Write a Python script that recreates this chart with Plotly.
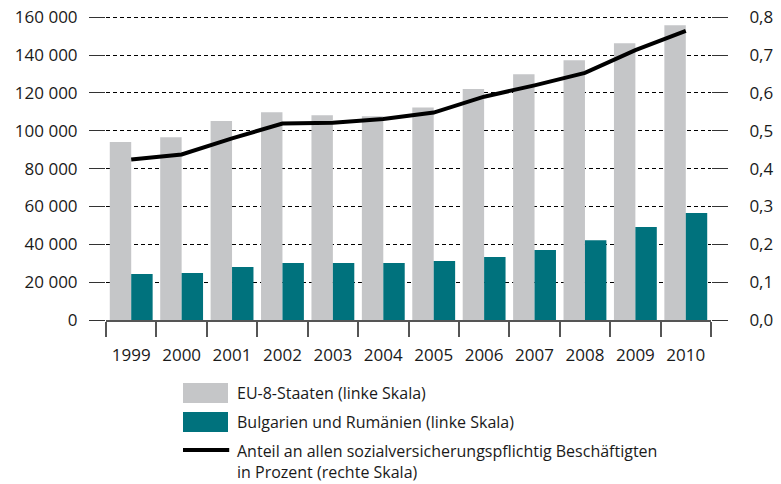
import plotly.graph_objects as go

years = ["1999", "2000", "2001", "2002", "2003", "2004", "2005", "2006", "2007", "2008", "2009", "2010"]
eu8 = [94000, 96600, 105100, 109800, 108200, 107700, 112300, 122000, 129900, 137300, 146200, 155800]
bg_ro = [24300, 24800, 28000, 30100, 30100, 30100, 31200, 33300, 37000, 42200, 49100, 56500]
share = [0.424, 0.4375, 0.48, 0.519, 0.521, 0.531, 0.548, 0.590, 0.620, 0.653, 0.713, 0.764]

left_ticks = [0, 20000, 40000, 60000, 80000, 100000, 120000, 140000, 160000]
right_ticks = [0.0, 0.1, 0.2, 0.3, 0.4, 0.5, 0.6, 0.7, 0.8]

legend_labels = [
    "EU-8-Staaten (linke Skala)",
    "Bulgarien und Rumänien (linke Skala)",
    "Anteil an allen sozialversicherungspflichtig Beschäftigten<br>in Prozent (rechte Skala)",
]

GREY = "#c5c6c8"
TEAL = "#00727d"
TXT = "#1a1a1a"
FONT = "Open Sans"

fig = go.Figure()
fig.add_trace(go.Bar(x=years, y=eu8, marker_color=GREY, marker_line_width=0, name=legend_labels[0], showlegend=False))
fig.add_trace(go.Bar(x=years, y=bg_ro, marker_color=TEAL, marker_line_width=0, name=legend_labels[1], showlegend=False))
fig.add_trace(go.Scatter(x=years, y=share, yaxis="y2", mode="lines", line=dict(color="black", width=4),
                         name=legend_labels[2], showlegend=False))

# body margin is removed below, so figure pixels == window pixels
W, H = 781, 484
EXT = 1.004  # small headroom so the top gridline is drawn
PX0, PX1, PY1 = 106, 711, 320  # plot area in window pixels
PY0 = PY1 - (PY1 - 17) * EXT
L = PX0
R = W - PX1
T = PY0
B = H - PY1
pw = PX1 - PX0
ph = PY1 - PY0


def px_x(px):
    return (px - PX0) / pw


def px_y(py):
    return (PY1 - py) / ph


# custom legend
sw_x0, sw_x1 = px_x(183), px_x(228)
shapes = [
    dict(type="rect", xref="paper", yref="paper", x0=sw_x0, x1=sw_x1, y0=px_y(403), y1=px_y(383),
         fillcolor=GREY, line_width=0),
    dict(type="rect", xref="paper", yref="paper", x0=sw_x0, x1=sw_x1, y0=px_y(432), y1=px_y(412),
         fillcolor=TEAL, line_width=0),
    dict(type="line", xref="paper", yref="paper", x0=sw_x0, x1=sw_x1 + 0.002, y0=px_y(450), y1=px_y(450),
         line=dict(color="black", width=4)),
]
LEG_FONT = dict(size=16, color=TXT, family=FONT)
annotations = [
    dict(xref="paper", yref="paper", x=px_x(235), y=px_y(393), text=legend_labels[0], showarrow=False,
         xanchor="left", yanchor="middle", align="left", font=LEG_FONT),
    dict(xref="paper", yref="paper", x=px_x(235), y=px_y(422), text=legend_labels[1], showarrow=False,
         xanchor="left", yanchor="middle", align="left", font=LEG_FONT),
    dict(xref="paper", yref="paper", x=px_x(235), y=px_y(438), text=legend_labels[2], showarrow=False,
         xanchor="left", yanchor="top", align="left", font=LEG_FONT),
]

TICK_FONT = dict(size=17, color=TXT, family=FONT)

fig.update_layout(
    width=W, height=H,
    margin=dict(l=L, r=R, t=T, b=B, pad=0),
    paper_bgcolor="white", plot_bgcolor="white",
    separators=", ",
    barmode="group", bargap=0.15, bargroupgap=0,
    font=dict(family=FONT, size=16, color=TXT),
    shapes=shapes, annotations=annotations,
    xaxis=dict(
        type="category", tickson="boundaries", ticks="outside", ticklen=15, tickcolor="#555",
        tickwidth=1.5, showline=True, linecolor="#555", linewidth=1.5, showgrid=False,
        tickfont=TICK_FONT, automargin=False, ticklabelstandoff=19,
    ),
    yaxis=dict(
        range=[0, 160000 * EXT], tickvals=left_ticks, tickformat=",d", ticks="outside", ticklen=16,
        tickcolor="#333", tickwidth=1.2, showgrid=True, gridcolor="black", gridwidth=1,
        griddash="4px,3px", zeroline=False, showline=False, ticklabelstandoff=8,
        tickfont=TICK_FONT, automargin=False, ticklabeloverflow="allow",
    ),
    yaxis2=dict(
        range=[0, 0.8 * EXT], tickvals=right_ticks, tickformat=".1f", overlaying="y", side="right",
        ticks="outside", ticklen=16, tickcolor="#333", tickwidth=1.2, showgrid=False,
        zeroline=False, showline=False, ticklabelstandoff=18,
        tickfont=TICK_FONT, automargin=False, ticklabeloverflow="allow",
    ),
)

fig.write_html(
    "out.html",
    config={"displayModeBar": False},
    post_script="document.body.style.margin='0';document.body.style.overflow='hidden';",
)
